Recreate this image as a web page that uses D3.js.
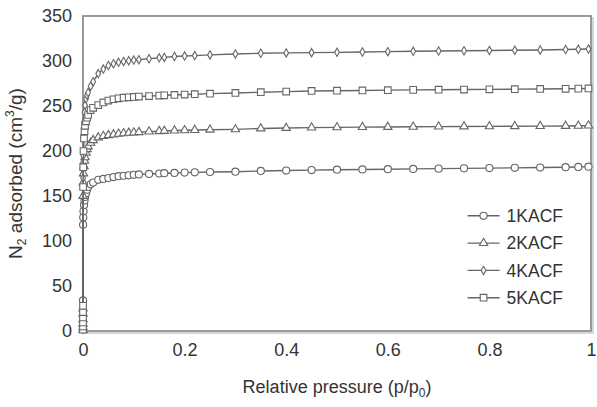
<!DOCTYPE html>
<html>
<head>
<meta charset="utf-8">
<script src="https://cdn.jsdelivr.net/npm/d3@7"></script>
<style>
  body { margin: 0; background: #fff; }
  text { font-family: "Liberation Sans", Arial, Helvetica, sans-serif; fill: #333; }
</style>
</head>
<body>
<svg id="chart" width="597" height="407"></svg>
<script>
// relative pressure p/p0 (shared by all samples)
const pressure = [0.000002, 0.000005, 0.00001, 0.00002, 0.00004, 0.00008, 0.0002, 0.0005, 0.001, 0.002,
  0.003, 0.004, 0.006, 0.008, 0.01, 0.015, 0.02, 0.03, 0.04, 0.05,
  0.06, 0.07, 0.08, 0.09, 0.1, 0.11, 0.13, 0.15, 0.16, 0.18,
  0.2, 0.22, 0.25, 0.3, 0.35, 0.4, 0.45, 0.5, 0.55, 0.6,
  0.65, 0.7, 0.75, 0.8, 0.85, 0.9, 0.95, 0.975, 0.995];

// N2 adsorbed (cm3/g)
const kacf1 = [2, 6, 11, 17, 24, 34, 118, 126, 133, 140,
  145, 149, 153, 157, 160, 163, 165, 168, 169, 170,
  171, 172, 172.5, 173, 173.5, 174, 174.5, 175, 175.3, 175.6,
  176, 176.3, 176.6, 177, 177.8, 178.3, 178.8, 179.2, 179.5, 179.8,
  180.1, 180.4, 180.7, 181, 181.3, 181.6, 182, 182.3, 182.6];
const kacf2 = [1, 4, 8, 13, 19, 25, 150, 165, 175, 183,
  189, 193, 198, 202, 205, 209, 212, 215, 216.5, 217.5,
  218.3, 219, 219.6, 220.1, 220.5, 220.9, 221.5, 222, 222.3, 222.7,
  223, 223.3, 223.6, 224, 225, 225.6, 226, 226.3, 226.5, 226.7,
  226.9, 227.1, 227.3, 227.4, 227.5, 227.6, 227.8, 228, 228.2];
const kacf4 = [2, 5, 9, 14, 20, 27, 170, 195, 215, 232,
  243, 251, 258, 262, 265, 272, 277, 286, 291, 295,
  297, 298.5, 299.5, 300.3, 301, 301.5, 302.5, 303.5, 304, 305,
  305.5, 306, 306.8, 307.8, 308.6, 309, 309.3, 309.6, 310, 310.4,
  310.8, 311.1, 311.4, 311.7, 312, 312.3, 312.7, 313, 313.3];
const kacf5 = [1.5, 5, 9.5, 15, 21, 28, 160, 182, 200, 214,
  222, 228, 233, 237, 240, 245.5, 248, 251, 254, 256,
  257.5, 258.5, 259.2, 259.7, 260.1, 260.5, 261, 261.6, 261.9, 262.3,
  262.7, 263.1, 263.7, 264.5, 265.3, 266, 266.7, 267, 267.3, 267.6,
  267.9, 268.1, 268.3, 268.5, 268.7, 268.9, 269.1, 269.3, 269.5];

const seriesNames = ["1KACF", "2KACF", "4KACF", "5KACF"];
const seriesValues = [kacf1, kacf2, kacf4, kacf5];
const markerTypes = ["circle", "triangle", "diamond", "square"];

const xTicks = [0, 0.2, 0.4, 0.6, 0.8, 1];
const yTicks = [0, 50, 100, 150, 200, 250, 300, 350];

const svg = d3.select("#chart");
const margin = { left: 83, right: 6, top: 16, bottom: 76 };
const width = 597 - margin.left - margin.right;
const height = 407 - margin.top - margin.bottom;

const x = d3.scaleLinear().domain([0, 1]).range([0, width]);
const y = d3.scaleLinear().domain([0, 350]).range([height, 0]);

const g = svg.append("g").attr("transform", `translate(${margin.left},${margin.top})`);

// frame with a little shadow
g.append("rect")
  .attr("x", 2).attr("y", 2)
  .attr("width", width).attr("height", height)
  .attr("fill", "none").attr("stroke", "#c8c8c8").attr("stroke-width", 1.5);
g.append("rect")
  .attr("width", width).attr("height", height)
  .attr("fill", "#fff").attr("stroke", "#8f8f8f").attr("stroke-width", 1.8);

// axes, no tick lines
const xAxis = g.append("g")
  .attr("transform", `translate(0,${height})`)
  .call(d3.axisBottom(x).tickValues(xTicks).tickSize(0).tickPadding(12).tickFormat(d3.format("")));
const yAxis = g.append("g")
  .call(d3.axisLeft(y).tickValues(yTicks).tickSize(0).tickPadding(11));
[xAxis, yAxis].forEach(a => {
  a.select(".domain").remove();
  a.selectAll("text").style("font-size", "18px").attr("fill", "#333")
    .style("font-family", "'Liberation Sans', Arial, sans-serif");
});

// marker shapes
const symbolFor = {
  circle: d3.symbol(d3.symbolCircle, 40),
  triangle: d3.symbol(d3.symbolTriangle, 30),
  diamond: d3.symbol(d3.symbolDiamond, 20),
  square: d3.symbol(d3.symbolSquare, 44)
};

const line = d3.line()
  .x(d => x(d[0]))
  .y(d => y(d[1]));

seriesValues.forEach((vals, i) => {
  const pts = pressure.map((p, j) => [p, vals[j]]);
  g.append("path")
    .datum(pts)
    .attr("d", line)
    .attr("fill", "none")
    .attr("stroke", "#666")
    .attr("stroke-width", 1.4);
  g.selectAll(".m" + i)
    .data(pts)
    .enter()
    .append("path")
    .attr("class", "m" + i)
    .attr("transform", d => `translate(${x(d[0])},${y(d[1])})`)
    .attr("d", symbolFor[markerTypes[i]]())
    .attr("fill", "#fff")
    .attr("stroke", "#666")
    .attr("stroke-width", 1.1);
});

// legend
const legend = g.append("g").attr("transform", `translate(${x(0.757)},${y(128)})`);
seriesNames.forEach((name, i) => {
  const row = legend.append("g").attr("transform", `translate(0,${i * 27.3})`);
  row.append("line").attr("x1", 0).attr("x2", 32)
    .attr("stroke", "#666").attr("stroke-width", 1.4);
  row.append("path")
    .attr("transform", "translate(16,0)")
    .attr("d", symbolFor[markerTypes[i]]())
    .attr("fill", "#fff").attr("stroke", "#666").attr("stroke-width", 1.1);
  row.append("text")
    .attr("x", 39).attr("dy", "0.35em")
    .style("font-size", "17.5px")
    .text(name);
});

// axis titles
svg.append("text")
  .attr("x", margin.left + width / 2)
  .attr("y", 393)
  .attr("text-anchor", "middle")
  .style("font-size", "18px")
  .html('Relative pressure (p/p<tspan font-size="12" dy="4">0</tspan><tspan dy="-4">)</tspan>');

svg.append("text")
  .attr("transform", `translate(22,${margin.top + height / 2}) rotate(-90)`)
  .attr("text-anchor", "middle")
  .style("font-size", "19px")
  .html('N<tspan font-size="12" dy="4">2</tspan><tspan dy="-4"> adsorbed (cm</tspan><tspan font-size="12" dy="-8">3</tspan><tspan dy="8">/g)</tspan>');
</script>
</body>
</html>
